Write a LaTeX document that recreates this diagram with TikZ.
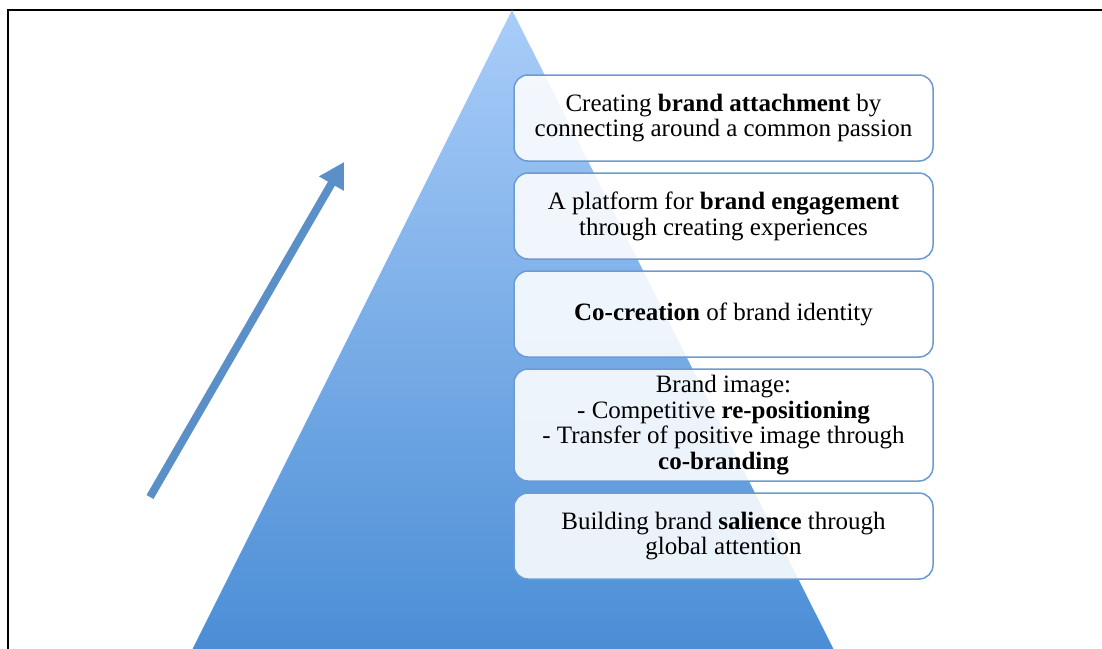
\documentclass[tikz,border=0pt]{standalone}
\usepackage{fontspec}
\setmainfont{Liberation Serif}
\usetikzlibrary{arrows.meta, positioning}

\definecolor{pyrtop}{HTML}{A9CDF9}
\definecolor{pyrbot}{HTML}{4A8DD5}
\definecolor{boxline}{HTML}{6B9BD2}
\definecolor{risecol}{HTML}{5B8FC8}

\begin{document}
\begin{tikzpicture}[
			x=1pt, y=-1pt,
			node distance=10.5pt,
			levelbox/.style={draw=boxline, line width=1.5pt, rounded corners=14pt, fill=white, fill opacity=0.88, text opacity=1, align=center, minimum width=419pt, minimum height=86pt, inner sep=1pt, font=\fontsize{25}{25.8}\selectfont},
			rise/.style={-{Triangle[width=27pt,length=25pt]}, line width=8pt, risecol}
			]
			
			\clip (0,0) rectangle (1102,648);
			
			% Frame and pyramid
			\draw[line width=2pt] (8,700) -- (8,10) -- (1150,10);
			\shade[top color=pyrtop, bottom color=pyrbot] (512,10) -- (837,656) -- (189,656) -- cycle;
			
			% Nodes
			\node (attach) [levelbox] at (723.5,118) {Creating \textbf{brand attachment} by\\connecting around a common passion};
			\node (engage) [levelbox, below=of attach] {A platform for \textbf{brand engagement}\\through creating experiences};
			\node (cocreate) [levelbox, below=of engage] {\textbf{Co-creation} of brand identity};
			\node (image) [levelbox, below=of cocreate, minimum height=112pt] {Brand image:\\- Competitive \textbf{re-positioning}\\- Transfer of positive image through\\\textbf{co-branding}};
			\node (salience) [levelbox, below=of image] {Building brand \textbf{salience} through\\global attention};
			
			% Arrow
			\coordinate (riseA) at (150,497);
			\coordinate (riseB) at (344,162);
			\draw [rise] (riseA) -- (riseB);
			
		\end{tikzpicture}
\end{document}
